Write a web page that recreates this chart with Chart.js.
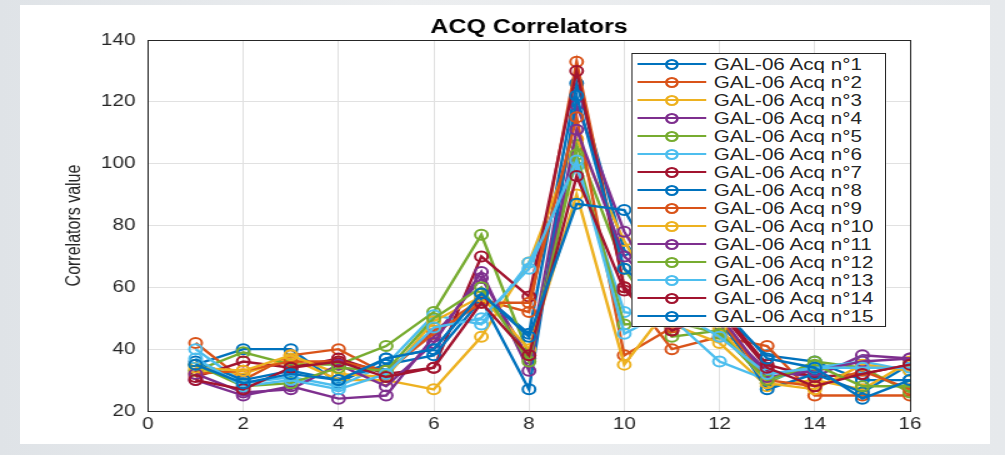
<!DOCTYPE html>
<html lang="en">
<head>
<meta charset="UTF-8">
<title>ACQ Correlators</title>
<script src="https://cdn.jsdelivr.net/npm/chart.js@4.4.0/dist/chart.umd.min.js"></script>
<style>
    html, body {
        margin: 0;
        padding: 0;
        width: 1005px;
        height: 455px;
        overflow: hidden;
        background: linear-gradient(90deg, #dfe3e7 0%, #eceef0 40%, #e6e9ec 100%);
        font-family: 'Liberation Sans', Arial, sans-serif;
    }
    /* the source picture is stretched horizontally, so the whole stage is too */
    #stage {
        position: absolute;
        left: 0;
        top: 0;
        width: 804px;
        height: 455px;
        transform: scaleX(1.25);
        transform-origin: 0 0;
    }
    #panel {
        position: absolute;
        left: 16px;
        top: 5px;
        width: 776px;
        height: 439px;
        background: #fff;
    }
    #myChart {
        position: absolute;
        left: 0;
        top: 0;
    }
    #legend {
        position: absolute;
        left: 505px;
        top: 53px;
        width: 202px;
        height: 271px;
        padding-top: 1px;
        background: #fff;
        border: 1px solid #262626;
    }
    .item {
        height: 18px;
        display: flex;
        align-items: center;
        font-size: 16.5px;
        color: #262626;
        white-space: nowrap;
    }
    .sample {
        position: relative;
        flex: none;
        width: 55px;
        height: 18px;
        margin-left: 4px;
        margin-right: 6px;
    }
    .sample .ln {
        position: absolute;
        left: 0;
        right: 0;
        top: 8px;
        height: 2px;
    }
    .sample .mk {
        position: absolute;
        box-sizing: border-box;
        left: 22px;
        top: 3.5px;
        width: 11px;
        height: 11px;
        border: 2px solid;
        border-radius: 50%;
    }
</style>
</head>
<body>
<div id="stage">
    <div id="panel"></div>
    <canvas id="myChart" width="804" height="455"></canvas>
    <div id="legend"></div>
</div>
<script>
// x positions (correlator index)
const xs = [1, 2, 3, 4, 5, 6, 7, 8, 9, 10, 11, 12, 13, 14, 15, 16];

// correlator values, one array per acquisition
const acq1  = [35, 40, 40, 29, 37, 40, 58, 45, 126, 72, 60, 52, 38, 36, 30, 30];
const acq2  = [42, 30, 38, 40, 32, 46, 56, 52, 133, 60, 40, 44, 41, 25, 25, 25];
const acq3  = [33, 32, 37, 30, 30, 27, 44, 68, 108, 75, 48, 42, 28, 30, 27, 36];
const acq4  = [30, 25, 28, 24, 25, 44, 63, 37, 119, 78, 52, 48, 33, 31, 38, 37];
const acq5  = [33, 39, 35, 35, 41, 52, 77, 38, 106, 66, 44, 46, 29, 36, 34, 26];
const acq6  = [40, 29, 31, 28, 35, 51, 48, 68, 99, 52, 50, 36, 30, 34, 36, 33];
const acq7  = [31, 36, 34, 37, 32, 34, 70, 57, 130, 60, 46, 53, 35, 31, 32, 35];
const acq8  = [36, 30, 33, 30, 35, 38, 56, 27, 122, 66, 54, 50, 27, 32, 26, 35];
const acq9  = [32, 33, 36, 36, 33, 45, 55, 55, 115, 38, 47, 50, 30, 28, 33, 27];
const acq10 = [34, 33, 38, 32, 31, 49, 57, 40, 90, 35, 55, 47, 29, 27, 35, 33];
const acq11 = [32, 26, 27, 35, 28, 42, 65, 33, 111, 70, 56, 51, 31, 33, 36, 37];
const acq12 = [35, 28, 29, 34, 33, 50, 60, 36, 103, 48, 49, 45, 30, 35, 28, 28];
const acq13 = [37, 28, 30, 27, 32, 47, 50, 66, 101, 45, 53, 44, 32, 34, 34, 34];
const acq14 = [30, 27, 34, 36, 31, 34, 55, 38, 96, 59, 46, 52, 34, 28, 32, 35];
const acq15 = [35, 29, 32, 30, 37, 40, 58, 44, 87, 85, 58, 54, 37, 34, 24, 30];

const series = [acq1, acq2, acq3, acq4, acq5, acq6, acq7, acq8,
                acq9, acq10, acq11, acq12, acq13, acq14, acq15];
const names = series.map((s, i) => 'GAL-06 Acq n°' + (i + 1));

// matlab default line colours
const palette = ['#0072BD', '#D95319', '#EDB120', '#7E2F8E', '#77AC30', '#4DBEEE', '#A2142F'];

const ink = '#262626';
const font = "'Liberation Sans', Arial, sans-serif";

const datasets = series.map((vals, i) => ({
    label: names[i],
    data: xs.map((x, k) => ({x: x, y: vals[k]})),
    borderColor: palette[i % palette.length],
    backgroundColor: palette[i % palette.length],
    borderWidth: 2.4,
    tension: 0,
    pointRadius: 5,
    pointBorderWidth: 2,
    pointBackgroundColor: 'rgba(0,0,0,0)',
    pointBorderColor: palette[i % palette.length],
    order: series.length - i   // later series on top, like matlab
}));

var ctx = document.getElementById('myChart').getContext('2d');

var graph = new Chart(ctx, {
    type: 'line',
    data: {datasets: datasets},
    options: {
        responsive: false,
        animation: false,
        layout: {padding: {left: 0, right: 76, top: 5, bottom: 0}},
        plugins: {
            legend: {display: false},
            tooltip: {enabled: false},
            title: {
                display: true,
                text: 'ACQ Correlators',
                fullSize: false,
                color: '#000',
                font: {family: font, size: 20, weight: 'bold'},
                padding: {top: 10, bottom: 1}
            }
        },
        scales: {
            x: {
                type: 'linear',
                position: 'bottom',
                min: 0,
                max: 16,
                afterFit: (s) => { s.height = 44; },
                ticks: {stepSize: 2, color: ink, padding: 4, font: {family: font, size: 16.5}},
                grid: {color: '#e1e1e1', drawTicks: false},
                border: {display: true, color: ink, width: 1}
            },
            y: {
                type: 'linear',
                position: 'left',
                min: 20,
                max: 140,
                afterFit: (s) => { s.width = 118.4; },
                ticks: {stepSize: 20, color: ink, padding: 10, font: {family: font, size: 16.5}},
                grid: {color: '#e1e1e1', drawTicks: false},
                border: {display: true, color: ink, width: 1},
                title: {
                    display: true,
                    text: 'Correlators value',
                    color: ink,
                    font: {family: font, size: 16},
                    padding: {top: 50, bottom: 0}
                }
            },
            xTop: {
                type: 'linear',
                position: 'top',
                min: 0,
                max: 16,
                afterFit: (s) => { s.height = 0; },
                ticks: {display: false},
                grid: {display: false},
                border: {display: true, color: ink, width: 1}
            },
            yRight: {
                type: 'linear',
                position: 'right',
                min: 20,
                max: 140,
                afterFit: (s) => { s.width = 0; },
                ticks: {display: false},
                grid: {display: false},
                border: {display: true, color: ink, width: 1}
            }
        }
    }
});

// legend box inside the axes, top right, built from the chart's datasets
const legendBox = document.getElementById('legend');
graph.data.datasets.forEach((ds) => {
    const row = document.createElement('div');
    row.className = 'item';
    const sample = document.createElement('div');
    sample.className = 'sample';
    const ln = document.createElement('div');
    ln.className = 'ln';
    ln.style.background = ds.borderColor;
    const mk = document.createElement('div');
    mk.className = 'mk';
    mk.style.borderColor = ds.borderColor;
    sample.appendChild(ln);
    sample.appendChild(mk);
    const txt = document.createElement('span');
    txt.textContent = ds.label;
    row.appendChild(sample);
    row.appendChild(txt);
    legendBox.appendChild(row);
});
</script>
</body>
</html>
